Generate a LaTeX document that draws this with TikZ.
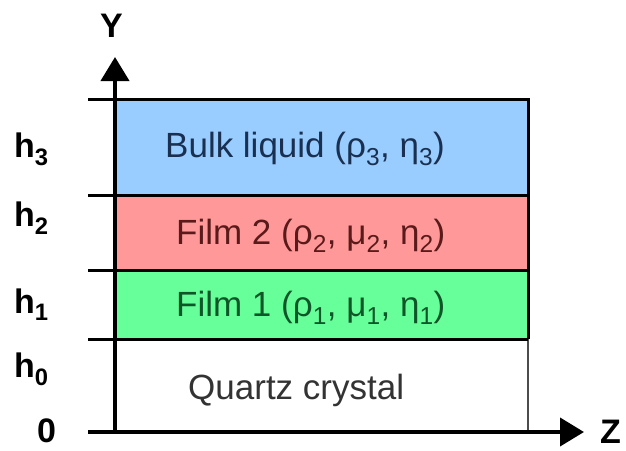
\documentclass[tikz,border=0pt]{standalone}
\usepackage{fontspec}
\setmainfont{Liberation Sans}
\usepackage{xcolor}
\definecolor{bulkcol}{RGB}{153, 204, 255}
\definecolor{filmtwo}{RGB}{255, 153, 153}
\definecolor{filmone}{RGB}{102, 255, 153}
\definecolor{bulktext}{RGB}{26, 48, 80}
\definecolor{filmtwotext}{RGB}{90, 26, 26}
\definecolor{filmonetext}{RGB}{15, 85, 40}
\usetikzlibrary{arrows.meta, positioning}

\begin{document}
\begin{tikzpicture}[
    x=1pt, y=-1pt,
    every node/.style={inner sep=0pt, anchor=base west},
    layertext/.style={font=\fontsize{35}{40}\selectfont},
    hlabel/.style={font=\fontsize{34}{40}\selectfont\bfseries},
    axis/.style={line width=4pt, -{Triangle[length=24pt, width=28pt]}},
    border/.style={line width=3pt},
]
\useasboundingbox (0,0) rectangle (626,450);

% Layers
\fill[bulkcol] (115,99) rectangle (528,195);
\fill[filmtwo] (115,195) rectangle (528,270);
\fill[filmone] (115,270) rectangle (528,339);
\draw[line width=1.5pt, black!70] (528,339) -- (528,432);
\draw[border] (88,99) -- (528,99) -- (528,339);
\draw[border] (88,195) -- (528,195);
\draw[border] (88,270) -- (528,270);
\draw[border] (88,339) -- (528,339);

% Layer texts
\node[layertext, text=bulktext] (bulk) at (165,157) {Bulk liquid (ρ\textsubscript{3}, η\textsubscript{3})};
\node[layertext, text=filmtwotext] (film2) at (176,244) {Film 2 (ρ\textsubscript{2}, μ\textsubscript{2}, η\textsubscript{2})};
\node[layertext, text=filmonetext] (film1) at (176,316) {Film 1 (ρ\textsubscript{1}, μ\textsubscript{1}, η\textsubscript{1})};
\node[layertext, text=black!80] (quartz) at (188,399) {Quartz crystal};

% Axes
\coordinate (origin) at (115,432);
\coordinate (ytip) at (115,57);
\coordinate (zstart) at (88,432);
\coordinate (ztip) at (584,432);
\draw[axis] (origin) -- (ytip);
\draw[axis] (zstart) -- (ztip);
\node[hlabel] (ylab) at (100,37) {Y};
\node[hlabel] (zlab) at (600,443) {Z};

% Heights
\node[hlabel] (h3) at (14,157) {h\textsubscript{3}};
\node[hlabel] (h2) at (14,226) {h\textsubscript{2}};
\node[hlabel] (h1) at (14,313) {h\textsubscript{1}};
\node[hlabel] (h0) at (14,377) {h\textsubscript{0}};
\node[hlabel] (zero) at (37,442) {0};

\end{tikzpicture}
\end{document}
